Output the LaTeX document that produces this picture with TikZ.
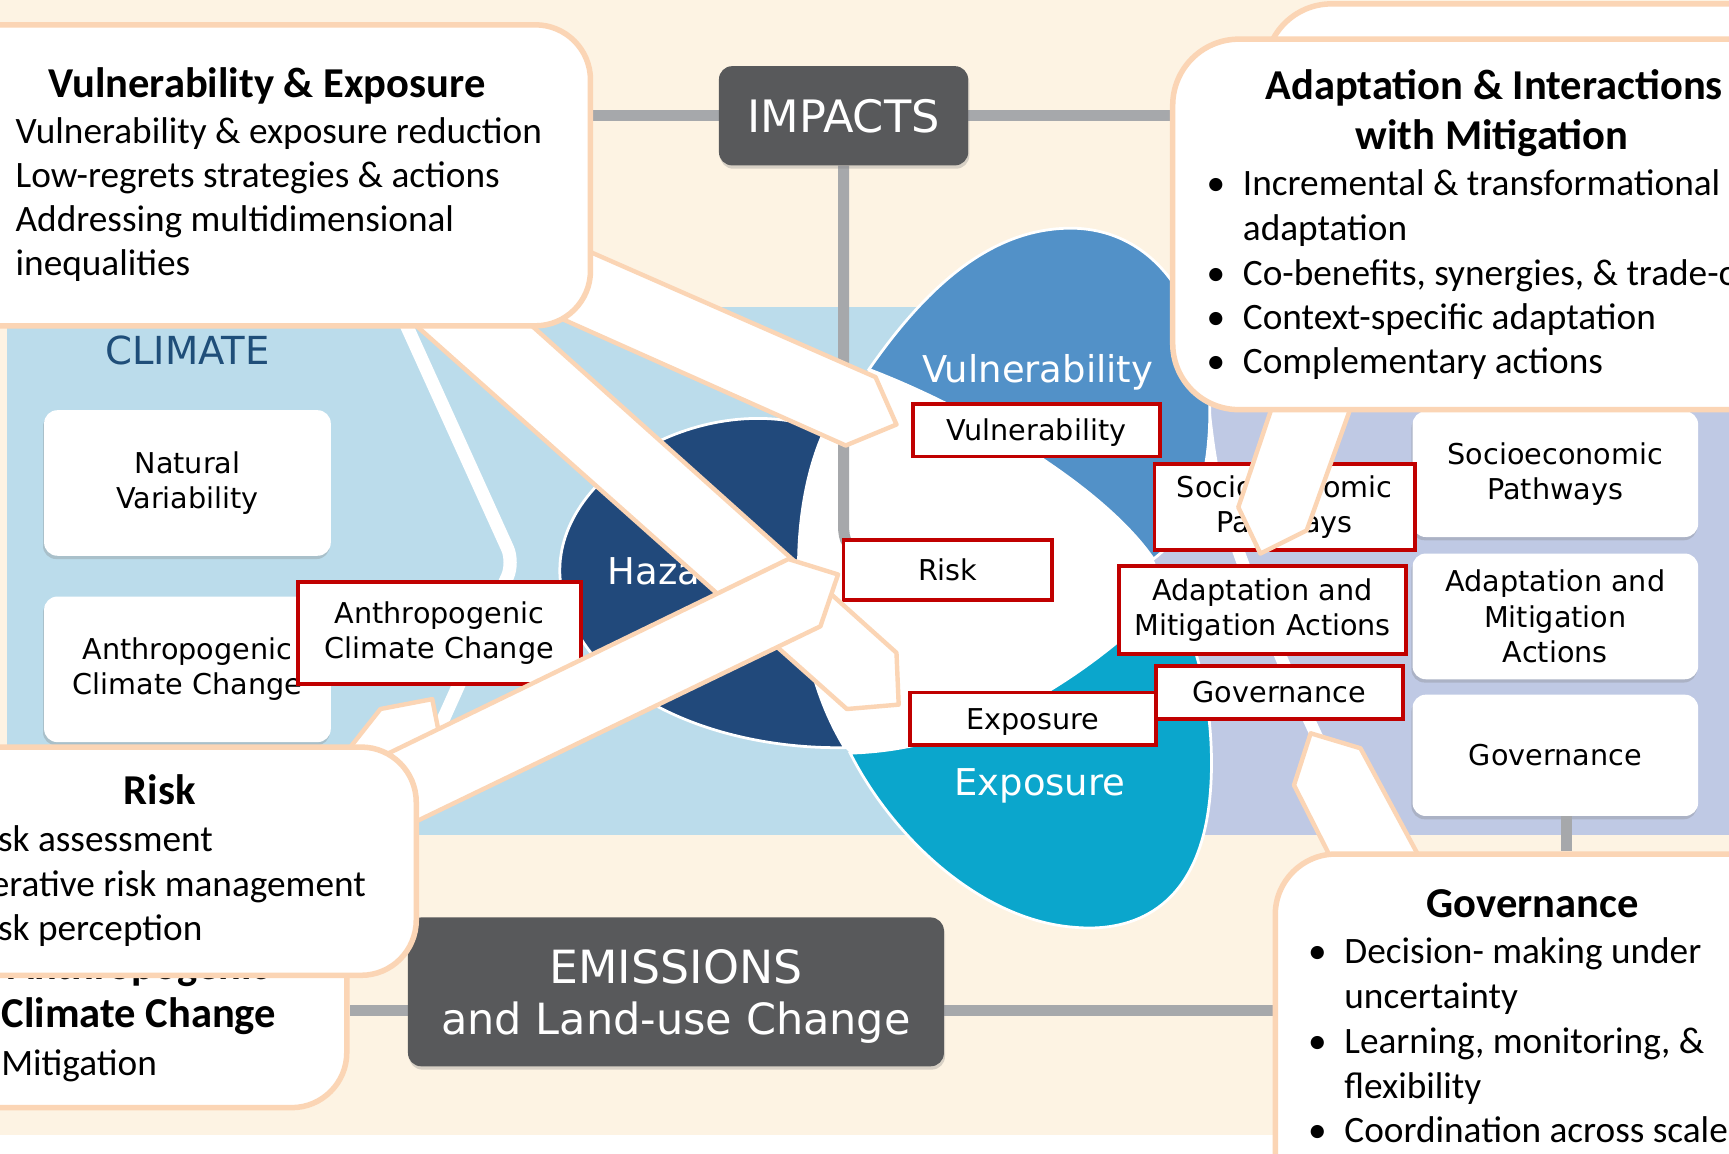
\documentclass[tikz,border=0pt]{standalone}
\usepackage{fontspec}
\newfontfamily\callfam{Carlito}
\newfontfamily\labfam{DejaVu Sans}
\usetikzlibrary{shadows,calc}
\definecolor{cream}{HTML}{FDF3E3}
\definecolor{lblue}{HTML}{BBDCEB}
\definecolor{lav}{HTML}{BFC9E4}
\definecolor{peach}{HTML}{FBD5B5}
\definecolor{conngray}{HTML}{A6A8AB}
\definecolor{darkbox}{HTML}{58595B}
\definecolor{hazc}{HTML}{21497B}
\definecolor{vulc}{HTML}{5291C8}
\definecolor{expc}{HTML}{0BA6CC}
\definecolor{redc}{HTML}{C00000}
\definecolor{climtxt}{HTML}{1F4E79}
\newcommand\cobody{\callfam\fontsize{33.8}{40}\selectfont}
\newcommand\cotitle{\callfam\bfseries\fontsize{38.6}{46}\selectfont}
\newcommand\lbfont{\labfam\fontsize{26}{32}\selectfont}
\newcommand\petfont{\labfam\fontsize{33.5}{40}\selectfont}
\pgfdeclarelayer{back}
\pgfdeclarelayer{connl}
\pgfsetlayers{back,connl,main}
\begin{document}
\begin{tikzpicture}[x=1pt,y=-1pt,
  cob/.style={font=\cobody, inner sep=0pt, anchor=base west},
  cot/.style={font=\cotitle, inner sep=0pt, anchor=base},
  cbox/.style={draw=peach, line width=5pt, fill=white, rounded corners=50pt, inner sep=0pt, anchor=north west},
  redbox/.style={draw=redc, line width=3.5pt, fill=white, inner sep=0pt, font=\lbfont, align=center},
  wbox/.style={fill=white, rounded corners=12pt, inner sep=0pt, font=\lbfont, align=center, drop shadow={opacity=0.3, shadow xshift=-1pt, shadow yshift=-3pt}},
  dbox/.style={fill=darkbox, rounded corners=12pt, inner sep=0pt, drop shadow={opacity=0.3, shadow xshift=1pt, shadow yshift=-3pt}},
  dtxt/.style={text=white, inner sep=0pt, anchor=base},
  conn/.style={draw=conngray, line width=10pt},
  band/.style={fill=white, draw=peach, line width=4pt, line join=round},
  petal/.style={draw=white, line width=2.5pt},
  pettxt/.style={font=\petfont, text=white, inner sep=0pt}
]
\useasboundingbox (0,0) rectangle (1568,1046);
\clip (0,0) rectangle (1568,1046);

\begin{pgfonlayer}{back}
\fill[white] (0,0) rectangle (1568,1046);
\fill[cream] (0,0) rectangle (1568,1029);
\fill[lblue] (6,278) rectangle (1000,757);
\fill[lav] (1000,360) rectangle (1568,757);
\draw[white, line width=12pt, rounded corners=14pt] (364,285) -- (466,510) -- (385,690);
\draw[white, line width=11pt] plot[smooth] coordinates {(1090,350) (1100,426) (1125,505) (1160,592) (1190,659) (1240,765)};
\node[font=\labfam\fontsize{35}{40}\selectfont, text=climtxt, inner sep=0pt] (clim) at (170,318) {CLIMATE};
\node[wbox, minimum width=260pt, minimum height=132pt] (nv) at (170,438) {Natural\\Variability};
\node[wbox, minimum width=260pt, minimum height=132pt] (acw) at (170,607) {Anthropogenic\\Climate Change};
\node[wbox, minimum width=259pt, minimum height=114pt] (sp) at (1410.5,430) {Socioeconomic\\Pathways};
\node[wbox, minimum width=259pt, minimum height=114pt] (am) at (1410.5,559) {Adaptation and\\Mitigation\\Actions};
\node[wbox, minimum width=259pt, minimum height=110pt] (gv) at (1410.5,685) {Governance};
% centre
\fill[white] (748,390) .. controls (715,460) and (712,590) .. (766,678) -- (771,683)
  .. controls (880,680) and (980,620) .. (1060,540) -- (1046,507)
  .. controls (1000,440) and (880,370) .. (788,335) -- cycle;
% hazards
\path[petal, fill=hazc] (748,390) .. controls (715,460) and (712,590) .. (766,678)
  .. controls (650,680) and (520,630) .. (508,525)
  .. controls (500,430) and (640,350) .. (748,390) -- cycle;
% vulnerability
\path[petal, fill=vulc] (1046,507) .. controls (1000,440) and (880,370) .. (788,335)
  .. controls (840,260) and (900,205) .. (975,207)
  .. controls (1060,210) and (1105,300) .. (1096,400)
  .. controls (1092,450) and (1075,485) .. (1046,507) -- cycle;
% exposure
\path[petal, fill=expc] (771,683) .. controls (880,680) and (980,620) .. (1060,540)
  .. controls (1095,590) and (1105,680) .. (1095,740)
  .. controls (1080,830) and (1020,845) .. (975,841)
  .. controls (890,835) and (810,760) .. (771,683) -- cycle;
\node[pettxt, anchor=base] (vtx) at (941,347) {Vulnerability};
\node[pettxt, anchor=base west] (htx) at (551,530) {Hazards};
\node[pettxt, anchor=base] (etx) at (943,721) {Exposure};
\end{pgfonlayer}

% red label boxes
\node[redbox, minimum width=224pt, minimum height=48pt, text depth=0pt] (rv) at (940,390) {Vulnerability};
\node[redbox, minimum width=236pt, minimum height=78pt] (rs) at (1165,460) {Socioeconomic\\Pathways};
\node[redbox, minimum width=189pt, minimum height=54pt] (rr) at (859.5,517) {Risk};
\node[redbox, minimum width=260pt, minimum height=80pt] (ra) at (1145,553) {Adaptation and\\Mitigation Actions};
\node[redbox, minimum width=224pt, minimum height=48pt] (rg) at (1160,628) {Governance};
\node[redbox, minimum width=223pt, minimum height=48pt, text depth=0pt] (re) at (936.5,652) {Exposure};
\node[redbox, minimum width=257pt, minimum height=92pt] (rac) at (398.5,574) {Anthropogenic\\Climate Change};

% arrow bands
\path[band] (300,700) -- (345,643) -- (392,634) -- (405,700) -- cycle;
\path[band] (349,270) -- (454,270) -- (813,592) -- (815,639) -- (768,643) -- cycle;
\path[band] (500,213) -- (794,342) -- (813,385) -- (767,404) -- (480,276) -- cycle;
\path[band] (330,694) -- (715,507) -- (760,521) -- (744,568) -- (340,763) -- cycle;
\path[band] (1160,350) -- (1123,460) -- (1143,502) -- (1185,481) -- (1232,350) -- cycle;
\path[band] (1213,790) -- (1173.5,712) -- (1188.6,665) -- (1233.8,678.6) -- (1294,790) -- cycle;

% dark boxes
\node[dbox, minimum width=226pt, minimum height=90pt] (impacts) at (765,105) {};
\node[dtxt, anchor=center, font=\labfam\fontsize{40.5}{46}\selectfont] (impt) at (impacts.center) {IMPACTS};
\node[dbox, minimum width=486pt, minimum height=135pt] (em) at (613,899.5) {};
\node[dtxt, font=\labfam\fontsize{41.5}{46}\selectfont] (emt1) at (613,892) {EMISSIONS};
\node[dtxt, font=\labfam\fontsize{39}{46}\selectfont] (emt2) at (613,938) {and Land-use Change};

% callouts: top right
\node[cbox, minimum width=600pt, minimum height=300pt, rounded corners=60pt] (adb) at (1145,1) {};
\node[cbox, minimum width=620pt, minimum height=336pt, rounded corners=60pt] (ad) at (1061,33) {};
\node[cot] (adT1) at (1355,90) {Adaptation \& Interactions};
\node[cot] (adT2) at (1353,136) {with Mitigation};
\node[cob] (adb1) at (1094,177) {•};
\node[cob] (ad1) at (1127,177) {Incremental \& transformational};
\node[cob] (ad2) at (1127,218) {adaptation};
\node[cob] (adb2) at (1094,259) {•};
\node[cob] (ad3) at (1127,259) {Co-benefits, synergies, \& trade-offs};
\node[cob] (adb3) at (1094,299) {•};
\node[cob] (ad4) at (1127,299) {Context-specific adaptation};
\node[cob] (adb4) at (1094,339) {•};
\node[cob] (ad5) at (1127,339) {Complementary actions};

% callout: vulnerability & exposure
\node[cbox, minimum width=603pt, minimum height=273pt] (ve) at (-70,20) {};
\node[cot] (veT) at (242,88) {Vulnerability \& Exposure};
\node[cob] (ve1) at (14,130) {Vulnerability \& exposure reduction};
\node[cob] (ve2) at (14,170) {Low-regrets strategies \& actions};
\node[cob] (ve3) at (14,210) {Addressing multidimensional};
\node[cob] (ve4) at (14,250) {inequalities};

% callout: anthropogenic climate change (behind risk)
\node[cbox, minimum width=393pt, minimum height=300pt] (an) at (-81,702) {};
\node[cot] (anT1) at (126,888) {Anthropogenic};
\node[cot] (anT2) at (126,932) {Climate Change};
\node[cob] (anb1) at (-27,975) {•};
\node[cob] (an1) at (1,975) {Mitigation};

% callout: risk
\node[cbox, minimum width=456pt, minimum height=207pt] (rk) at (-81,675) {};
\node[cot] (rkT) at (145,730) {Risk};
\node[cob] (rkb1) at (-55,772) {•};
\node[cob] (rk1) at (-28,772) {Risk assessment};
\node[cob] (rkb2) at (-55,813) {•};
\node[cob] (rk2) at (-28,813) {Iterative risk management};
\node[cob] (rkb3) at (-55,853) {•};
\node[cob] (rk3) at (-28,853) {Risk perception};

% callout: governance
\node[cbox, minimum width=520pt, minimum height=400pt, rounded corners=55pt] (gc) at (1154,772) {};
\node[cot] (gcT) at (1390,832) {Governance};
\node[cob] (gcb1) at (1186,874) {•};
\node[cob] (gc1) at (1219,874) {Decision- making under};
\node[cob] (gc2) at (1219,915) {uncertainty};
\node[cob] (gcb2) at (1186,955) {•};
\node[cob] (gc3) at (1219,955) {Learning, monitoring, \&};
\node[cob] (gc4) at (1219,996) {flexibility};
\node[cob] (gcb3) at (1186,1036) {•};
\node[cob] (gc5) at (1219,1036) {Coordination across scales};

% connectors (drawn beneath)
\begin{pgfonlayer}{connl}
\draw[conn] (impacts.west) -- (impacts.west -| ve.east);
\draw[conn] (impacts.east) -- (impacts.east -| ad.west);
\draw[conn] (impacts.south) -- ($(impacts.south |- rr.north)+(0,-12)$)
  .. controls ($(impacts.south |- rr.north)+(0,2)$) and ($(rr.north west)+(5,10)$) .. ($(rr.north west)+(20,10)$);
\draw[conn] ([yshift=-17pt]em.west) -- ([yshift=-17pt]em.west -| an.east);
\draw[conn] ([yshift=-17pt]em.east) -- ([yshift=-17pt]em.east -| gc.west);
\draw[conn] ([xshift=10pt]gv.south) -- ([xshift=10pt]gv.south |- gc.north);
\end{pgfonlayer}
\end{tikzpicture}
\end{document}
